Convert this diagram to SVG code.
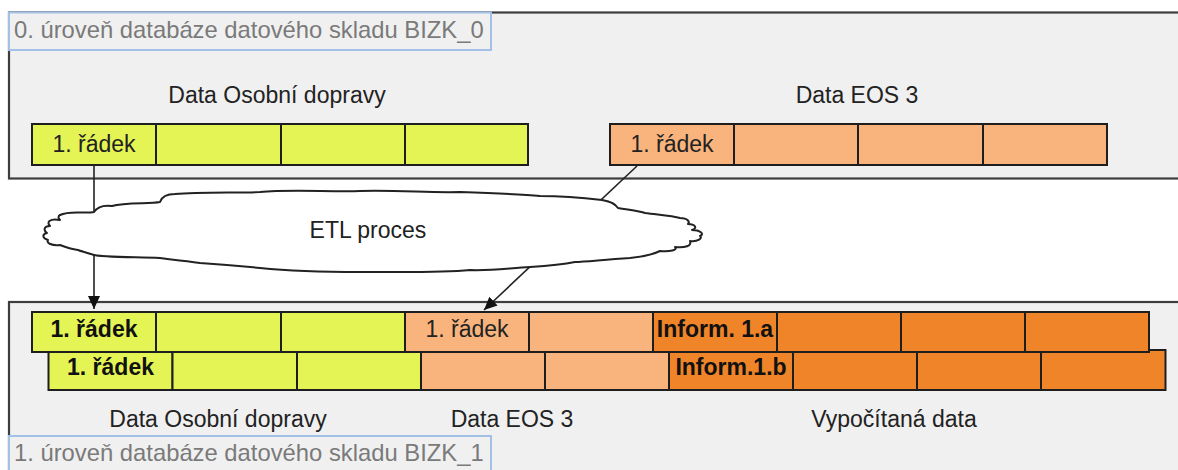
<svg xmlns="http://www.w3.org/2000/svg" width="1178" height="470" viewBox="0 0 1178 470">
  <style>
    text { font-family: "Liberation Sans", Arial, sans-serif; font-size: 23px; fill: #222; }
    .mid { text-anchor: middle; }
    .b { font-weight: bold; fill: #111; }
    .cap { fill: #7a7a7a; font-size: 23.8px; }
    .panel { fill: #f0f0f0; stroke: #3d3d3d; stroke-width: 2.2; }
    .capbox { fill: #f0f0f0; stroke: #a3c1e6; stroke-width: 2; }
    .cell { stroke: #1e1e1e; stroke-width: 2; }
    .yl { fill: #e4f455; }
    .lo { fill: #f8b47c; }
    .do { fill: #f08428; }
    .conn { stroke: #222; stroke-width: 1.6; fill: none; }
    .cloud { fill: #fff; stroke: #222; stroke-width: 2; stroke-linejoin: round; }
  </style>
  <defs>
    <marker id="arrow" markerUnits="userSpaceOnUse" markerWidth="13" markerHeight="12" viewBox="0 0 13 12" refX="13" refY="6" orient="auto">
      <path d="M0,0 L13,6 L0,12 z" fill="#111"/>
    </marker>
  </defs>

  <rect width="1178" height="470" fill="#fff"/>

  <!-- Level 0 warehouse database -->
  <g id="level0">
    <rect class="panel" x="9" y="12.5" width="1200" height="166"/>
    <rect class="capbox" x="9" y="12.5" width="482" height="37.5"/>
    <text class="cap" x="14" y="38">0. úroveň databáze datového skladu BIZK_0</text>
  </g>

  <!-- Level 1 warehouse database -->
  <g id="level1">
    <rect class="panel" x="9" y="302" width="1200" height="220"/>
  </g>

  <g id="src-osobni">
    <text class="mid" x="277" y="103">Data Osobní dopravy</text>
    <rect class="cell yl" x="32" y="124" width="124" height="41"/>
    <rect class="cell yl" x="156" y="124" width="125" height="41"/>
    <rect class="cell yl" x="281" y="124" width="124" height="41"/>
    <rect class="cell yl" x="405" y="124" width="123" height="41"/>
    <text class="mid" x="94" y="152">1. řádek</text>
  </g>

  <g id="src-eos">
    <text class="mid" x="857" y="103">Data EOS 3</text>
    <rect class="cell lo" x="610" y="124" width="124" height="41"/>
    <rect class="cell lo" x="734" y="124" width="124" height="41"/>
    <rect class="cell lo" x="858" y="124" width="125" height="41"/>
    <rect class="cell lo" x="983" y="124" width="124" height="41"/>
    <text class="mid" x="672" y="152">1. řádek</text>
  </g>

  <!-- Connectors pass behind the ETL cloud -->
  <g id="connectors">
    <line class="conn" x1="94" y1="165" x2="94" y2="309" marker-end="url(#arrow)"/>
    <line class="conn" x1="637" y1="166" x2="484" y2="310" marker-end="url(#arrow)"/>
  </g>

  <g id="etl">
    <path class="cloud" d="M60 215 C70 210,85 214,94 212 C98 206,105 205,112 206 C125 202,150 204,160 202 C162 196,168 194,175 194 C200 192,240 193,260 192 C290 189,330 192,360 191 C400 190,430 193,460 192 C490 193,520 194,540 196 C560 196,585 198,602 200 C612 202,615 204,618 208 C630 210,640 211,645 213 C660 215,672 216,680 218 C688 218,690 222,688 224 C695 224,698 228,692 230 C700 230,705 234,700 236 C703 238,698 242,690 241 C692 246,685 248,675 247 C678 250,670 252,660 251 C650 256,640 257,630 258 C600 260,585 262,575 262 C560 265,545 266,530 267 C510 268,490 271,470 270 C440 273,400 272,360 272 C320 272,290 271,260 268 C240 266,215 264,200 263 C180 260,165 259,160 258 C130 257,100 257,94 255 C85 252,80 251,78 250 C70 249,65 247,60 245 C52 246,46 243,48 240 C42 238,42 234,47 233 C43 230,44 226,50 226 C46 222,50 218,60 220 C58 218,58 216,60 215 Z"/>
    <text class="mid" x="368" y="238">ETL proces</text>
  </g>

  <!-- Second row of level 1 (drawn first, first row overlaps it) -->
  <g id="row2">
    <rect class="cell yl" x="48.5" y="350" width="124" height="40"/>
    <rect class="cell yl" x="172.5" y="350" width="124.5" height="40"/>
    <rect class="cell yl" x="297" y="350" width="124" height="40"/>
    <rect class="cell lo" x="421" y="350" width="124" height="40"/>
    <rect class="cell lo" x="545" y="350" width="124" height="40"/>
    <rect class="cell do" x="669" y="350" width="124" height="40"/>
    <rect class="cell do" x="793" y="350" width="124" height="40"/>
    <rect class="cell do" x="917" y="350" width="124" height="40"/>
    <rect class="cell do" x="1041" y="350" width="124.5" height="40"/>
    <text class="mid b" x="110.5" y="375">1. řádek</text>
    <text class="mid b" x="731" y="375">Inform.1.b</text>
  </g>

  <g id="row1">
    <rect class="cell yl" x="32" y="312" width="124" height="40"/>
    <rect class="cell yl" x="156" y="312" width="125" height="40"/>
    <rect class="cell yl" x="281" y="312" width="124" height="40"/>
    <rect class="cell lo" x="405" y="312" width="124" height="40"/>
    <rect class="cell lo" x="529" y="312" width="124" height="40"/>
    <rect class="cell do" x="653" y="312" width="124" height="40"/>
    <rect class="cell do" x="777" y="312" width="124" height="40"/>
    <rect class="cell do" x="901" y="312" width="124" height="40"/>
    <rect class="cell do" x="1025" y="312" width="124" height="40"/>
    <text class="mid b" x="94" y="337">1. řádek</text>
    <text class="mid" x="467" y="337">1. řádek</text>
    <text class="mid b" x="715" y="337">Inform. 1.a</text>
  </g>

  <g id="level1-labels">
    <text class="mid" x="218" y="427">Data Osobní dopravy</text>
    <text class="mid" x="512" y="427">Data EOS 3</text>
    <text class="mid" x="894" y="427">Vypočítaná data</text>
  </g>

  <g id="level1-caption">
    <rect class="capbox" x="9" y="436" width="482" height="50"/>
    <text class="cap" x="14" y="461">1. úroveň databáze datového skladu BIZK_1</text>
  </g>
</svg>
